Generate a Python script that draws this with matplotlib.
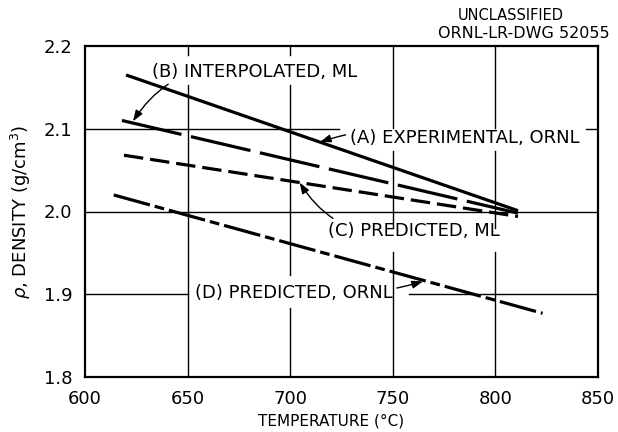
import matplotlib
matplotlib.use("Agg")
import matplotlib.pyplot as plt

plt.rcParams['font.family'] = ['DejaVu Sans']
plt.rcParams['lines.scale_dashes'] = False

# ---- data ----
temp_A = [620, 811]
rho_A = [2.165, 2.001]
temp_B = [618, 811]
rho_B = [2.110, 1.998]
temp_C = [619, 811]
rho_C = [2.068, 1.994]
temp_D = [614, 823]
rho_D = [2.020, 1.877]

x_ticks = [600, 650, 700, 750, 800, 850]
y_ticks = [1.8, 1.9, 2.0, 2.1, 2.2]
y_tick_labels = ["1.8", "1.9", "2.0", "2.1", "2.2"]

label_A = "(A) EXPERIMENTAL, ORNL"
label_B = "(B) INTERPOLATED, ML"
label_C = "(C) PREDICTED, ML"
label_D = "(D) PREDICTED, ORNL"

fig = plt.figure(figsize=(6.18, 4.32), dpi=100)
ax = fig.add_axes([85 / 618, 1 - 377 / 432, 513 / 618, 331 / 432])
ax.set_xlim(600, 850)
ax.set_ylim(1.8, 2.2)

# broken grid lines (gaps left for the labels, as in the drawing)
grid_kw = dict(color='black', lw=1.0, zorder=1)
# horizontal
ax.plot([600, 724], [2.1, 2.1], **grid_kw)
ax.plot([844, 850], [2.1, 2.1], **grid_kw)
ax.plot([600, 850], [2.0, 2.0], **grid_kw)
ax.plot([600, 650], [1.9, 1.9], **grid_kw)
ax.plot([758, 850], [1.9, 1.9], **grid_kw)
# vertical
for xv in (650, 700):
    ax.plot([xv, xv], [2.189, 2.2], **grid_kw)
ax.plot([650, 650], [1.8, 2.153], **grid_kw)
ax.plot([700, 700], [1.923, 2.153], **grid_kw)
ax.plot([700, 700], [1.8, 1.883], **grid_kw)
for xv in (750, 800):
    ax.plot([xv, xv], [2.101, 2.2], **grid_kw)
    ax.plot([xv, xv], [1.98, 2.073], **grid_kw)
    ax.plot([xv, xv], [1.8, 1.951], **grid_kw)

# curves
lw = 2.3
ax.plot(temp_A, rho_A, color='black', lw=lw, solid_capstyle='butt', zorder=3)
ax.plot(temp_B, rho_B, color='black', lw=lw, dashes=(44, 7), zorder=3)
ax.plot(temp_C, rho_C, color='black', lw=lw, dashes=(14, 5), zorder=3)
ax.plot(temp_D, rho_D, color='black', lw=lw, dashes=(27, 3.6, 7, 3.6), zorder=3)

fs = 13
arrow = dict(arrowstyle='-|>,head_length=0.5,head_width=0.18', color='black', lw=1.0,
             shrinkA=1, shrinkB=0)

ax.annotate(label_A, xy=(714.5, 2.084), xytext=(729, 2.089), fontsize=fs,
            ha='left', va='center',
            arrowprops=dict(arrow, connectionstyle='arc3,rad=0.15'))
ax.annotate(label_B, xy=(623.4, 2.109), xytext=(632.5, 2.169), fontsize=fs,
            ha='left', va='center',
            arrowprops=dict(arrow, connectionstyle='arc3,rad=0.35'))
ax.annotate(label_C, xy=(704.6, 2.035), xytext=(718.5, 1.9765), fontsize=fs,
            ha='left', va='center',
            arrowprops=dict(arrow, connectionstyle='arc3,rad=-0.35'))
ax.annotate(label_D, xy=(764.7, 1.9155), xytext=(653.6, 1.9013), fontsize=fs,
            ha='left', va='center',
            arrowprops=dict(arrow, connectionstyle='arc3,rad=0.1'))

# axes styling
for s in ax.spines.values():
    s.set_linewidth(1.6)
ax.set_xticks(x_ticks)
ax.set_yticks(y_ticks)
ax.set_yticklabels(y_tick_labels)
ax.tick_params(length=0, pad=9, labelsize=13)
ax.set_xlabel("TEMPERATURE (°C)", fontsize=11)
ax.xaxis.set_label_coords((331 - 85) / 513, -(413 - 377) / 331)
ax.set_ylabel(r"$\rho$, DENSITY (g/cm$^3$)", fontsize=13)
ax.yaxis.set_label_coords(-(85 - 33) / 513, 0.5)

fig.text(511 / 618, 1 - 16 / 432, "UNCLASSIFIED", fontsize=10.5,
         ha='center', va='center')
fig.text(610 / 618, 1 - 33 / 432, "ORNL-LR-DWG 52055", fontsize=11.5,
         ha='right', va='center')

fig.savefig("out.png", dpi=100)
